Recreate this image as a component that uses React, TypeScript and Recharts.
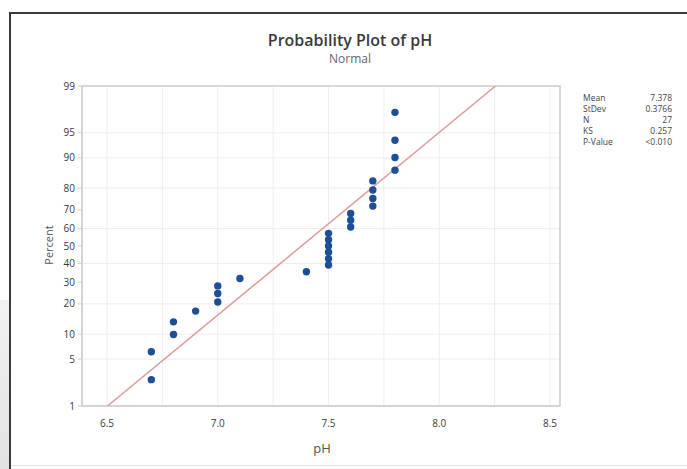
import React from 'react';
import { ScatterChart, Scatter, XAxis, YAxis, CartesianGrid, ReferenceArea } from 'recharts';

// Observed pH values (sorted) and their plotted percent positions
const phValues = [6.7, 6.7, 6.8, 6.8, 6.9, 7.0, 7.0, 7.0, 7.1, 7.4, 7.5, 7.5, 7.5, 7.5, 7.5, 7.5, 7.6, 7.6, 7.6, 7.7, 7.7, 7.7, 7.7, 7.8, 7.8, 7.8, 7.8];
const percentValues = [2.6, 6.2, 9.9, 13.5, 17.2, 20.8, 24.5, 28.1, 31.8, 35.4, 39.1, 42.7, 46.4, 50.0, 53.6, 57.3, 60.9, 64.6, 68.2, 71.9, 75.5, 79.2, 82.8, 86.5, 90.1, 93.8, 97.4];

// Fitted line end points
const fitPh = [6.502, 8.254];
const fitPercent = [1, 99];

// Axis ticks
const percentTicks = [1, 5, 10, 20, 30, 40, 50, 60, 70, 80, 90, 95, 99];
const phTicks = [6.5, 6.75, 7.0, 7.25, 7.5, 7.75, 8.0, 8.25, 8.5];
const phLabelTicks = [6.5, 7.0, 7.5, 8.0, 8.5];
const phDomain = [6.387, 8.545];

// Stats table
const statLabels = ['Mean', 'StDev', 'N', 'KS', 'P-Value'];
const statValues = ['7.378', '0.3766', '27', '0.257', '<0.010'];

// inverse normal CDF (Acklam) for probability scale
function invNorm(p: number): number {
  const a = [-3.969683028665376e1, 2.209460984245205e2, -2.759285104469687e2, 1.38357751867269e2, -3.066479806614716e1, 2.506628277459239];
  const b = [-5.447609879822406e1, 1.615858368580409e2, -1.556989798598866e2, 6.680131188771972e1, -1.328068155288572e1];
  const c = [-7.784894002430293e-3, -3.223964580411365e-1, -2.400758277161838, -2.549732539343734, 4.374664141464968, 2.938163982698783];
  const d = [7.784695709041462e-3, 3.224671290700398e-1, 2.445134137142996, 3.754408661907416];
  const pl = 0.02425;
  if (p < pl) {
    const q = Math.sqrt(-2 * Math.log(p));
    return (((((c[0] * q + c[1]) * q + c[2]) * q + c[3]) * q + c[4]) * q + c[5]) / ((((d[0] * q + d[1]) * q + d[2]) * q + d[3]) * q + 1);
  }
  if (p > 1 - pl) {
    const q = Math.sqrt(-2 * Math.log(1 - p));
    return -(((((c[0] * q + c[1]) * q + c[2]) * q + c[3]) * q + c[4]) * q + c[5]) / ((((d[0] * q + d[1]) * q + d[2]) * q + d[3]) * q + 1);
  }
  const q = p - 0.5;
  const r = q * q;
  return (((((a[0] * r + a[1]) * r + a[2]) * r + a[3]) * r + a[4]) * r + a[5]) * q / (((((b[0] * r + b[1]) * r + b[2]) * r + b[3]) * r + b[4]) * r + 1);
}
const z = (pct: number) => invNorm(pct / 100);

const points = phValues.map((x, i) => ({ x, y: z(percentValues[i]) }));
const fitLine = fitPh.map((x, i) => ({ x, y: z(fitPercent[i]) }));
const zTicks = percentTicks.map(z);
const yDomain = [z(1), z(99)];

const fmtPct = (v: number) => {
  let best = percentTicks[0];
  let bd = Infinity;
  percentTicks.forEach((p) => {
    const dd = Math.abs(z(p) - v);
    if (dd < bd) { bd = dd; best = p; }
  });
  return String(best);
};
const fmtPh = (v: number) => (phLabelTicks.some((t) => Math.abs(t - v) < 1e-6) ? v.toFixed(1) : '');

const FONT = '"Open Sans", "Noto Sans", sans-serif';

export default function App() {
  return (
    <div style={{ position: 'fixed', left: 0, top: 0, width: 687, height: 469, background: '#fff', overflow: 'hidden', fontFamily: FONT }}>
      {/* frame */}
      <div style={{ position: 'absolute', left: 0, top: 300, width: 9, height: 169, background: 'linear-gradient(#f2f2f2, #e2e2e2)' }} />
      <div style={{ position: 'absolute', left: 9, top: 12, width: 678, height: 2, background: '#3a3a3a' }} />
      <div style={{ position: 'absolute', left: 9, top: 12, width: 2, height: 457, background: '#3a3a3a' }} />
      <div style={{ position: 'absolute', left: 11, top: 465, width: 676, height: 1, background: '#e4e4e4' }} />

      <div style={{ position: 'absolute', left: 0, top: 0 }}>
        <ScatterChart width={687} height={469} margin={{ top: 86, right: 127, bottom: 33, left: 22 }}>
          <CartesianGrid stroke="#ededed" strokeWidth={1} />
          <XAxis
            type="number"
            dataKey="x"
            domain={phDomain}
            ticks={phTicks}
            tickFormatter={fmtPh}
            allowDataOverflow
            height={30}
            axisLine={{ stroke: '#cfcfcf' }}
            tickLine={false}
            tickMargin={8}
            tick={{ fontSize: 10, fill: '#3a3a3a', fontFamily: FONT }}
          />
          <YAxis
            type="number"
            dataKey="y"
            domain={yDomain}
            ticks={zTicks}
            tickFormatter={fmtPct}
            allowDataOverflow
            width={60}
            axisLine={{ stroke: '#cfcfcf' }}
            tickLine={{ stroke: '#cfcfcf' }}
            tickSize={4}
            tickMargin={3}
            tick={{ fontSize: 10, fill: '#3a3a3a', fontFamily: FONT }}
          />
          <ReferenceArea x1={phDomain[0]} x2={phDomain[1]} y1={yDomain[0]} y2={yDomain[1]} fill="none" stroke="#cfcfcf" strokeWidth={1.5} ifOverflow="visible" />
          <Scatter
            data={fitLine}
            line={{ stroke: '#dc9c9c', strokeWidth: 1.5 }}
            shape={() => <g />}
            isAnimationActive={false}
            legendType="none"
          />
          <Scatter data={points} fill="#1d4f96" isAnimationActive={false} shape={(p: any) => <circle cx={p.cx} cy={p.cy} r={3.7} fill="#1d4f96" />} />
        </ScatterChart>
      </div>

      {/* titles */}
      <div style={{ position: 'absolute', left: 200, width: 300, top: 30, textAlign: 'center', fontSize: 16, fontWeight: 600, color: '#3a3a3a', whiteSpace: 'nowrap', lineHeight: '20px' }}>Probability Plot of pH</div>
      <div style={{ position: 'absolute', left: 250, width: 200, top: 52, textAlign: 'center', fontSize: 12, color: '#666', lineHeight: '14px' }}>Normal</div>
      <div style={{ position: 'absolute', left: 19, top: 238, width: 60, textAlign: 'center', fontSize: 11, color: '#555', transform: 'rotate(-90deg)', lineHeight: '14px' }}>Percent</div>
      <div style={{ position: 'absolute', left: 300, top: 439, width: 44, textAlign: 'center', fontSize: 13, color: '#555' }}>pH</div>

      {/* stats */}
      {statLabels.map((l, i) => (
        <React.Fragment key={l}>
          <div style={{ position: 'absolute', left: 583, top: 92 + i * 11, fontSize: 8.5, color: '#444', lineHeight: '11px' }}>{l}</div>
          <div style={{ position: 'absolute', left: 620, width: 52, top: 92 + i * 11, fontSize: 8.5, color: '#444', lineHeight: '11px', textAlign: 'right' }}>{statValues[i]}</div>
        </React.Fragment>
      ))}
    </div>
  );
}
